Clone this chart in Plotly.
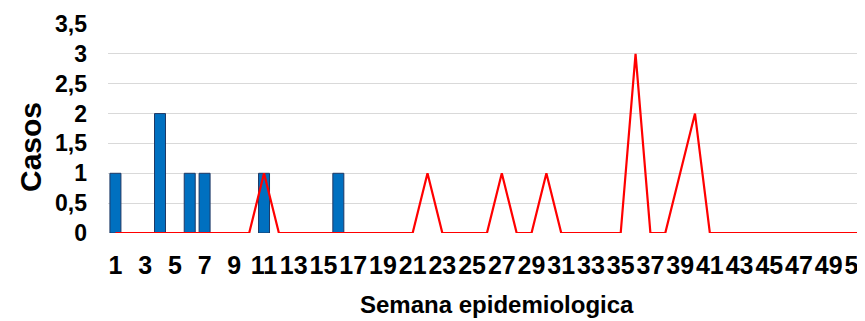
import plotly.graph_objects as go

weeks = list(range(1, 53))
bar_values = [1, 0, 0, 2, 0, 1, 1, 0, 0, 0, 1, 0, 0, 0, 0, 1] + [0] * 36
line_values = [0] * 52
for w, v in [(11, 1), (22, 1), (27, 1), (30, 1), (36, 3), (39, 1), (40, 2), (52, 1)]:
    line_values[w - 1] = v
tick_weeks = list(range(1, 53, 2))
tick_labels = [str(w) for w in tick_weeks]
y_ticks = [0, 0.5, 1, 1.5, 2, 2.5, 3, 3.5]
y_labels = ["0", "0,5", "1", "1,5", "2", "2,5", "3", "3,5"]

FONT = "Liberation Sans, Arial, sans-serif"

fig = go.Figure()
fig.add_trace(go.Bar(
    x=weeks, y=[v if v else None for v in bar_values], width=0.74,
    marker=dict(color="#0070C0", line=dict(color="#1F3864", width=1)),
    showlegend=False,
))
fig.add_trace(go.Scatter(
    x=weeks, y=line_values, mode="lines",
    line=dict(color="#FF0000", width=2.2), showlegend=False,
))

# page has an 8px default body margin: figure is sized to end at the window edge
fig.update_layout(
    width=857, height=313,
    margin=dict(l=100, r=0, t=16, b=88, autoexpand=False),
    plot_bgcolor="white", paper_bgcolor="white",
    xaxis=dict(
        range=[0.5, 51.44], tickmode="array", tickvals=tick_weeks, ticktext=tick_labels,
        showgrid=False, zeroline=False, showline=False, ticks="", automargin=False,
        tickangle=0,
        tickfont=dict(family=FONT, size=25, color="#000000", weight="bold"),
        ticklabelstandoff=15, ticklabeloverflow="allow",
    ),
    yaxis=dict(
        range=[0, 3.5], tickmode="array", tickvals=y_ticks, ticktext=y_labels,
        showgrid=True, gridcolor="#D9D9D9", gridwidth=1, zeroline=False, showline=False,
        ticks="", automargin=False,
        tickfont=dict(family=FONT, size=23, color="#000000", weight="bold"),
        ticklabelstandoff=20,
    ),
    annotations=[
        dict(text="Casos", xref="paper", yref="paper", x=(30 - 108) / 757, y=(233 - 147) / 209,
             showarrow=False, textangle=-90, xanchor="center", yanchor="middle",
             font=dict(family=FONT, size=30, color="#000000", weight="bold")),
        dict(text="Semana epidemiologica", xref="paper", yref="paper",
             x=(496.5 - 108) / 757, y=(233 - 304) / 209,
             showarrow=False, xanchor="center", yanchor="middle",
             font=dict(family=FONT, size=24, color="#000000", weight="bold")),
    ],
)

fig.write_html("out.html")
